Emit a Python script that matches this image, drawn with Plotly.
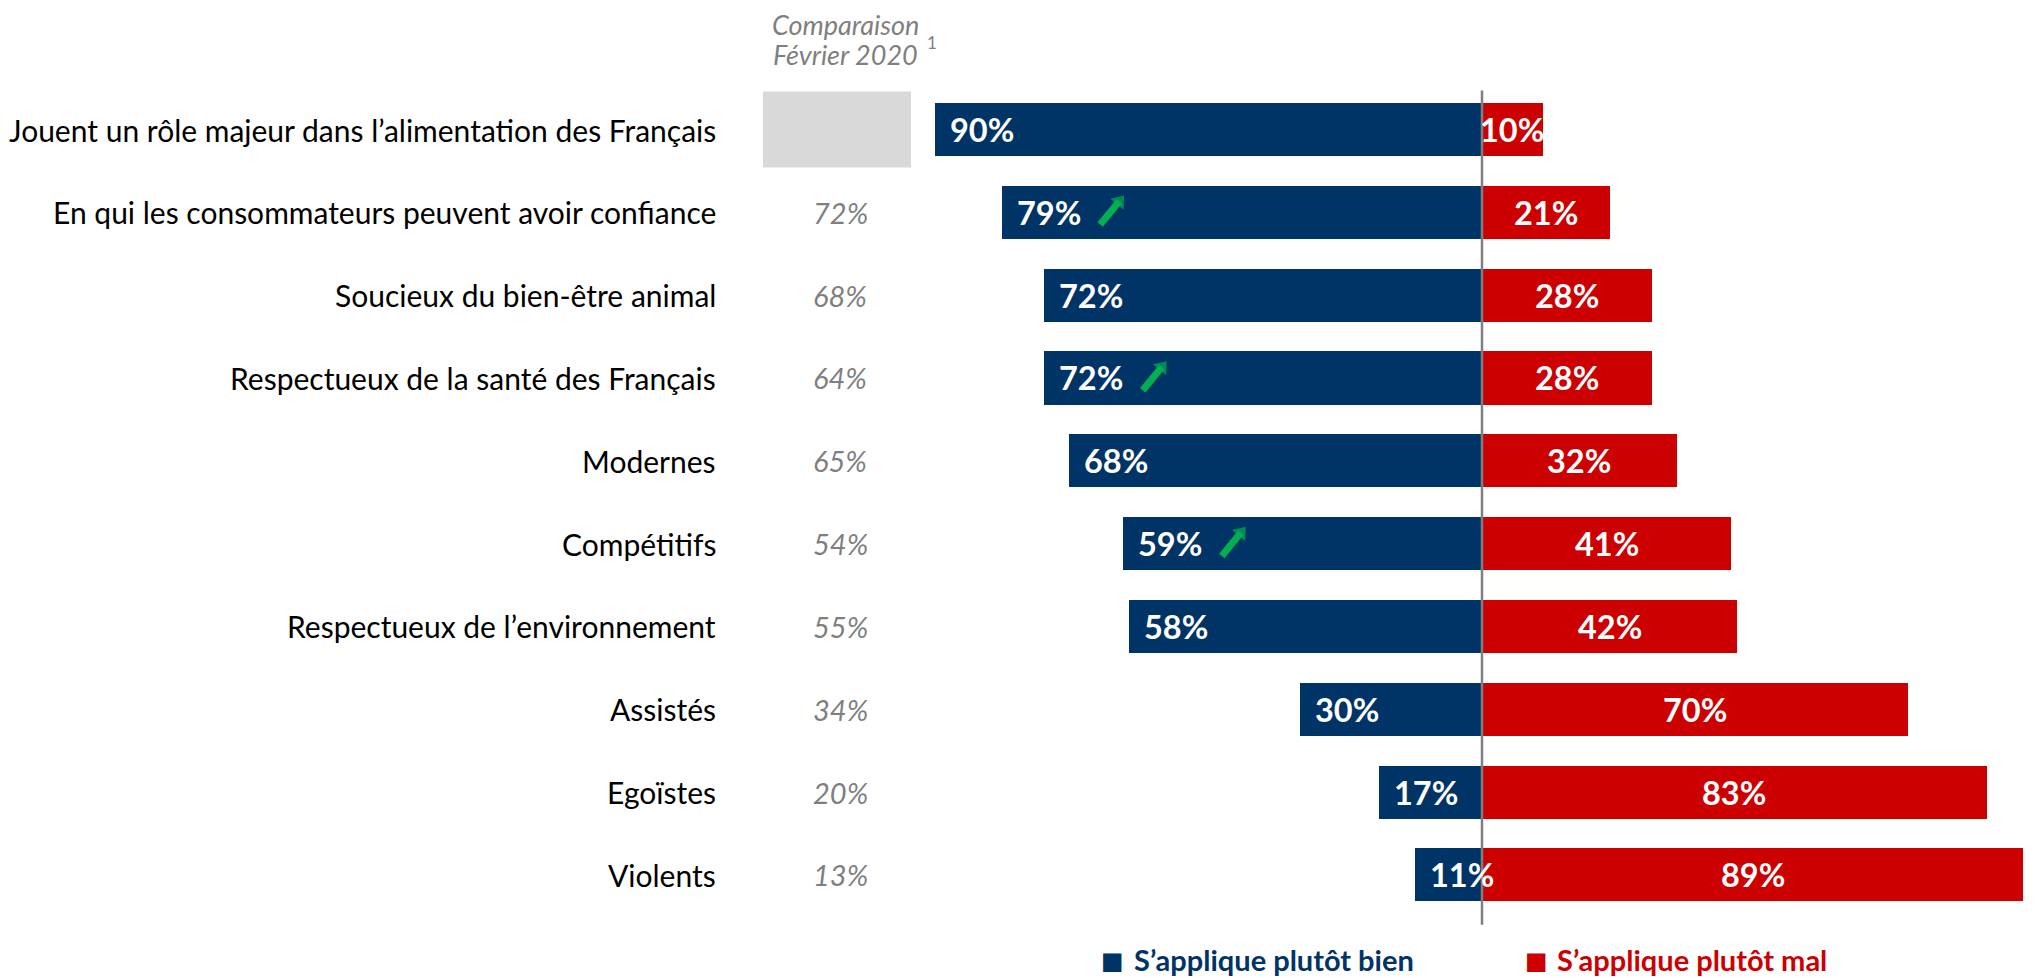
"""Image des agriculteurs : barres divergentes bien / mal + comparaison février 2020."""

import plotly.graph_objects as go

categories = [
    "Jouent un rôle majeur dans l’alimentation des Français",
    "En qui les consommateurs peuvent avoir confiance",
    "Soucieux du bien-être animal",
    "Respectueux de la santé des Français",
    "Modernes",
    "Compétitifs",
    "Respectueux de l’environnement",
    "Assistés",
    "Egoïstes",
    "Violents",
]
bien = [90, 79, 72, 72, 68, 59, 58, 30, 17, 11]
mal = [10, 21, 28, 28, 32, 41, 42, 70, 83, 89]
fevrier_2020 = [None, 72, 68, 64, 65, 54, 55, 34, 20, 13]
hausse = [False, True, False, True, False, True, False, False, False, False]

BLUE = "#003366"
RED = "#CC0000"
GREEN = "#00B050"
GREY_TXT = "#7F7F7F"
GREY_BOX = "#D9D9D9"
FONT = "Lato"

# page coordinates of the target; the html body adds an 8px margin
OFF = 8
W, H = 2038 - OFF, 978 - OFF
PX_PER_PT = 6.08          # pixels per percentage point
X0_PX = 1482 - OFF        # centre line position
ROW0_PX, ROW_STEP = 129.5 - OFF, 82.83

x_range = [-X0_PX / PX_PER_PT, (W - X0_PX) / PX_PER_PT]
y_range = [(H - ROW0_PX) / ROW_STEP, -ROW0_PX / ROW_STEP]
rows = list(range(len(categories)))


def px(x):
    return (x - OFF) / W


def py(y):
    return 1 - (y - OFF) / H


fig = go.Figure()
fig.add_trace(go.Bar(
    y=rows, x=[-v for v in bien], orientation="h",
    marker=dict(color=BLUE, line=dict(width=0)), width=0.64,
    name="S’applique plutôt bien", showlegend=False, hoverinfo="skip",
))
fig.add_trace(go.Bar(
    y=rows, x=mal, orientation="h",
    marker=dict(color=RED, line=dict(width=0)), width=0.64,
    name="S’applique plutôt mal", showlegend=False, hoverinfo="skip",
))

ann = []
shapes = []
for i, cat, b, m, f, up in zip(rows, categories, bien, mal, fevrier_2020, hausse):
    # row label
    ann.append(dict(x=px(718), xref="paper", y=i, yref="y", text=cat,
                    xanchor="right", yanchor="middle", showarrow=False,
                    font=dict(family=FONT, size=30, color="#000000")))
    # value labels
    ann.append(dict(x=-b, y=i, text=f"<b>{b}%</b>", xanchor="left", yanchor="middle",
                    xshift=13, showarrow=False,
                    font=dict(family=FONT, size=32.5, color="white")))
    ann.append(dict(x=m / 2, y=i, text=f"<b>{m}%</b>", xanchor="center", yanchor="middle",
                    showarrow=False, font=dict(family=FONT, size=32.5, color="white")))
    # comparison column
    if f is None:
        shapes.append(dict(type="rect", xref="paper", yref="y",
                           x0=px(763), x1=px(911), y0=i - 0.46, y1=i + 0.46,
                           fillcolor=GREY_BOX, line=dict(width=0), layer="below"))
    else:
        ann.append(dict(x=px(840), xref="paper", y=i, text=f"<i>{f}%</i>",
                        xanchor="center", yanchor="middle", showarrow=False,
                        font=dict(family=FONT, size=29, color=GREY_TXT)))
    # green "up" arrow after the value
    if up:
        fig.add_trace(go.Scatter(
            x=[-b + 16.2, -b + 19.35], y=[i + 0.148, i - 0.133],
            mode="lines+markers", line=dict(color=GREEN, width=7),
            marker=dict(symbol="triangle-up", size=[0, 15], color=GREEN,
                        angleref="previous", line=dict(width=0)),
            showlegend=False, hoverinfo="skip", cliponaxis=False,
        ))

# centre line
shapes.append(dict(type="line", xref="x", yref="y", x0=0, x1=0,
                   y0=-0.47, y1=9.6, line=dict(color="#7F7F7F", width=2.5)))

# header
ann.append(dict(x=px(845), xref="paper", y=py(24), yref="paper",
                text="<i>Comparaison</i>", xanchor="center", yanchor="middle",
                showarrow=False, font=dict(family=FONT, size=27, color=GREY_TXT)))
ann.append(dict(x=px(845), xref="paper", y=py(54), yref="paper",
                text="<i>Février 2020</i>", xanchor="center", yanchor="middle",
                showarrow=False, font=dict(family=FONT, size=27, color=GREY_TXT)))
ann.append(dict(x=px(932), xref="paper", y=py(43), yref="paper",
                text="1", xanchor="center", yanchor="middle", showarrow=False,
                font=dict(family=FONT, size=17, color=GREY_TXT)))

# legend
for sq_x, txt_x, label, col in [(1112, 1132, "S’applique plutôt bien", BLUE),
                                (1536, 1555, "S’applique plutôt mal", RED)]:
    ann.append(dict(x=px(sq_x), xref="paper", y=py(961), yref="paper",
                    text="■", xanchor="center", yanchor="middle", showarrow=False,
                    font=dict(family="DejaVu Sans", size=24, color=col)))
    ann.append(dict(x=px(txt_x), xref="paper", y=py(959), yref="paper",
                    text=f"<b>{label}</b>", xanchor="left", yanchor="middle",
                    showarrow=False, font=dict(family=FONT, size=29, color=col)))

fig.update_layout(
    width=W, height=H,
    paper_bgcolor="white", plot_bgcolor="white",
    margin=dict(l=0, r=0, t=0, b=0),
    barmode="overlay", bargap=0,
    showlegend=False,
    annotations=ann, shapes=shapes,
)
fig.update_xaxes(range=x_range, visible=False, fixedrange=True)
fig.update_yaxes(range=y_range, visible=False, fixedrange=True)

fig.write_html("out.html")
